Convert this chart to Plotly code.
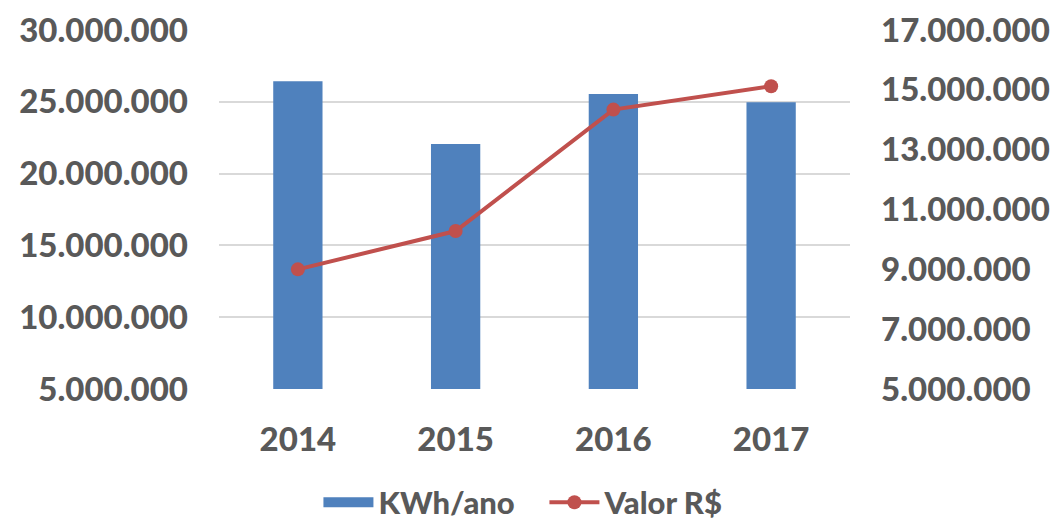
import plotly.graph_objects as go

years = ["2014", "2015", "2016", "2017"]
kwh_ano = [26430000, 22060000, 25540000, 24960000]
valor_rs = [9000000, 10280000, 14340000, 15120000]

FONT = "Lato"
GREY = "#595959"
BLUE = "#4F81BD"
RED = "#C0504D"

fig = go.Figure()
fig.add_trace(go.Bar(
    x=years, y=kwh_ano, name="KWh/ano",
    marker=dict(color=BLUE, line=dict(width=0)),
    yaxis="y", showlegend=False, legendgroup="kwh",
))
# legend proxy drawn as a wide swatch
fig.add_trace(go.Scatter(
    x=[None], y=[None], name="KWh/ano", mode="lines",
    line=dict(color=BLUE, width=20), legendgroup="kwh",
))
fig.add_trace(go.Scatter(
    x=years, y=valor_rs, name="Valor R$", mode="lines+markers",
    line=dict(color=RED, width=4),
    marker=dict(color=RED, size=14),
    yaxis="y2",
))

tf = dict(family=FONT, size=33, color=GREY, weight=900)

fig.update_layout(
    width=1051, height=512,
    margin=dict(l=211, r=209, t=22, b=131, autoexpand=False),
    paper_bgcolor="white", plot_bgcolor="white",
    separators=",.",
    bargap=0.6875,
    font=tf,
    xaxis=dict(
        showgrid=False, showline=False, zeroline=False,
        tickfont=tf, ticklabelstandoff=28,
    ),
    yaxis=dict(
        range=[5000000, 30000000], dtick=5000000, tick0=0,
        tickformat=",d",
        showgrid=True, gridcolor="#D9D9D9", gridwidth=1.5,
        zeroline=False, showline=False,
        tickfont=tf, ticklabelstandoff=30,
    ),
    yaxis2=dict(
        range=[5000000, 17000000], dtick=2000000, tick0=1000000,
        tickformat=",d", overlaying="y", side="right",
        showgrid=False, zeroline=False, showline=False,
        tickfont=tf, ticklabelstandoff=30,
    ),
    showlegend=True,
    legend=dict(
        orientation="h", xref="container", yref="container",
        x=0.5104, xanchor="center", y=0.034, yanchor="middle",
        font=dict(family=FONT, size=31, color=GREY, weight=900),
        bgcolor="rgba(0,0,0,0)",
        itemwidth=50, entrywidth=161,
    ),
)

fig.write_html("out.html")
